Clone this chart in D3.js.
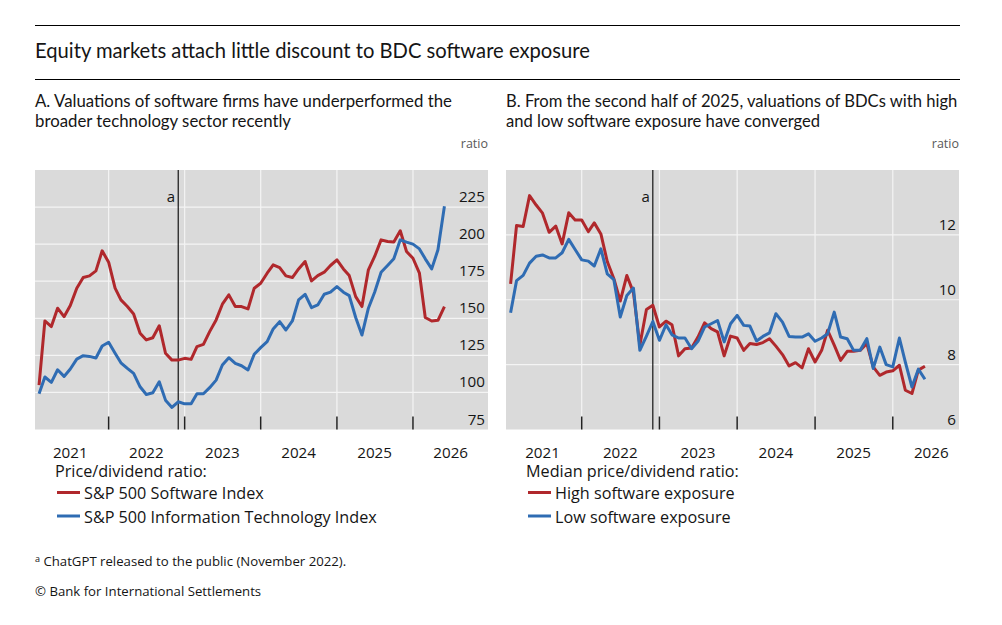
<!DOCTYPE html>
<html>
<head>
<meta charset="utf-8">
<script src="https://cdn.jsdelivr.net/npm/d3@7"></script>
<style>
  body { margin: 0; background: #fff; }
  text { fill: #151515; }
  .title { font-family: Lato, sans-serif; }
  .tick-label, .legend { font-family: "Open Sans", sans-serif; }
</style>
</head>
<body>
<svg id="chart" width="1002" height="625"></svg>
<script>
// month-end observations, Jan 2021 .. May 2026
const months = d3.timeMonth.range(new Date(2021, 1, 1), new Date(2026, 6, 1));

const softwareIndex = [105, 148.2, 144.4, 156.8, 151.1, 158.6, 170.3, 177.5, 178.6, 182, 195.5, 187.8,
  170.3, 162.4, 157.9, 152.9, 139.9, 135.4, 136.9, 145, 126.4, 121.8, 121.8, 123,
  122.3, 130.9, 132.4, 141, 148.9, 159.5, 165.8, 157.9, 157.9, 156.3, 170.3, 173.6,
  180.4, 186, 184.2, 178.6, 177.5, 183.3, 188.3, 175.2, 178.8, 181.1, 185.6, 189.4,
  183.3, 178.8, 164.6, 157.9, 182.7, 191.7, 202.9, 201.8, 201.4, 209, 195, 190.5,
  180.4, 150.5, 148.2, 148.6, 157.9];

const itIndex = [99.1, 110.4, 106.8, 115.3, 110.8, 115.8, 122.5, 124.8, 124.3, 123.2, 131.3, 133.8,
  126.4, 120, 116.2, 112.8, 103.8, 98.6, 99.8, 107.2, 94.8, 89.9, 93.7, 92.3,
  92.3, 99.1, 99.1, 103.2, 108.3, 118.5, 123.4, 119.6, 118, 115.1, 125.7, 130.2,
  134.2, 142.8, 147.7, 142.1, 148.2, 162.4, 166.2, 157.2, 159, 166.2, 167.6, 171.4,
  167.6, 165.3, 150.5, 138.7, 156.8, 167.6, 181.1, 185.6, 190.1, 202.9, 201.4, 200,
  196.8, 190.1, 183.3, 196.2, 225.5];

const highExposure = [10.49, 12.29, 12.26, 13.21, 12.92, 12.67, 12.08, 12.27, 11.72, 12.68, 12.46, 12.46,
  12.1, 12.37, 12.03, 11.18, 10.65, 9.96, 10.75, 10.22, 8.6, 9.7, 9.83, 9.16,
  9.34, 9.23, 8.27, 8.49, 8.51, 8.85, 9.29, 9.11, 9.01, 8.27, 8.88, 8.82,
  8.44, 8.65, 8.62, 8.68, 8.8, 8.57, 8.31, 7.96, 8.06, 7.9, 8.49, 8.08,
  8.44, 9.06, 8.6, 8.13, 8.41, 8.41, 8.44, 8.65, 7.93, 7.67, 7.77, 7.81,
  7.98, 7.21, 7.11, 7.83, 7.95];

const lowExposure = [9.6, 10.59, 10.75, 11.13, 11.34, 11.38, 11.29, 11.29, 11.45, 11.86, 11.55, 11.23,
  11.19, 11.04, 11.57, 10.8, 10.62, 9.47, 10.13, 10.36, 8.44, 8.88, 9.33, 8.75,
  9.23, 8.92, 8.82, 8.82, 8.49, 8.72, 9.16, 9.26, 9.36, 8.7, 9.26, 9.52,
  9.21, 9.19, 8.73, 8.87, 8.98, 9.57, 9.31, 8.87, 8.85, 8.85, 8.95, 8.72,
  8.82, 8.95, 9.62, 8.85, 8.8, 8.44, 8.44, 8.8, 7.88, 8.54, 8, 7.93,
  8.82, 8.08, 7.31, 7.86, 7.55];

const years = [2021, 2022, 2023, 2024, 2025, 2026];
const leftTicks = [75, 100, 125, 150, 175, 200, 225];
const rightTicks = [6, 8, 10, 12];
const chatGptDate = new Date(2022, 11, 1);

const RED = "#b0282c", BLUE = "#2f6cb3";

const svg = d3.select("#chart");

// header
svg.append("line").attr("x1", 35).attr("x2", 960).attr("y1", 25.5).attr("y2", 25.5).attr("stroke", "#000");
svg.append("line").attr("x1", 35).attr("x2", 960).attr("y1", 79.5).attr("y2", 79.5).attr("stroke", "#000");
svg.append("text").attr("class", "title").attr("x", 35).attr("y", 58)
  .style("font-size", "20.2px").text("Equity markets attach little discount to BDC software exposure");

const panels = [
  {
    left: 35, right: 488, xr: [32.6, 489],
    title: ["A. Valuations of software firms have underperformed the", "broader technology sector recently"],
    titleSize: 16.8,
    yDomain: [75, 250], ticks: leftTicks,
    series: [{ values: softwareIndex, color: RED }, { values: itIndex, color: BLUE }],
    legendTitle: "Price/dividend ratio:",
    legend: ["S&P 500 Software Index", "S&P 500 Information Technology Index"]
  },
  {
    left: 506, right: 959, xr: [504, 970.5],
    title: ["B. From the second half of 2025, valuations of BDCs with high", "and low software exposure have converged"],
    titleSize: 16.6,
    yDomain: [6, 14], ticks: rightTicks,
    series: [{ values: highExposure, color: RED }, { values: lowExposure, color: BLUE }],
    legendTitle: "Median price/dividend ratio:",
    legend: ["High software exposure", "Low software exposure"]
  }
];

const plotTop = 170, plotBottom = 429.5;

panels.forEach(p => {
  const g = svg.append("g");
  const x = d3.scaleTime().domain([new Date(2021, 0, 1), new Date(2027, 0, 1)]).range(p.xr);
  const y = d3.scaleLinear().domain(p.yDomain).range([plotBottom, plotTop]);

  p.title.forEach((t, i) => {
    g.append("text").attr("class", "title").attr("x", p.left).attr("y", 107 + i * 20)
      .style("font-size", p.titleSize + "px").text(t);
  });
  g.append("text").attr("class", "legend").attr("x", p.right).attr("y", 148)
    .attr("text-anchor", "end").style("font-size", "12.5px").style("fill", "#595959").text("ratio");

  g.append("rect").attr("x", p.left).attr("y", plotTop).attr("width", p.right - p.left)
    .attr("height", plotBottom - plotTop).attr("fill", "#dadada");

  // gridlines
  g.selectAll(".hgrid").data(p.ticks.slice(1)).join("line").attr("class", "hgrid")
    .attr("x1", p.left).attr("x2", p.right).attr("y1", d => y(d)).attr("y2", d => y(d))
    .attr("stroke", "#f4f4f4").attr("stroke-width", 1.2);
  const yearStarts = years.slice(1).map(yr => new Date(yr, 0, 1));
  g.selectAll(".vgrid").data(yearStarts).join("line").attr("class", "vgrid")
    .attr("x1", d => x(d)).attr("x2", d => x(d)).attr("y1", plotTop).attr("y2", plotBottom)
    .attr("stroke", "#f4f4f4").attr("stroke-width", 1.2);

  // year ticks and labels
  g.selectAll(".xtick").data(yearStarts).join("line").attr("class", "xtick")
    .attr("x1", d => x(d)).attr("x2", d => x(d)).attr("y1", plotBottom - 13).attr("y2", plotBottom)
    .attr("stroke", "#222").attr("stroke-width", 1.5);
  g.selectAll(".xlab").data(years).join("text").attr("class", "tick-label xlab")
    .attr("x", d => x(new Date(d, 6, 1))).attr("y", 458).attr("text-anchor", "middle")
    .style("font-size", "15.2px").text(d => d);

  // y labels inside the plot, right side, sitting above gridlines
  g.selectAll(".ylab").data(p.ticks).join("text").attr("class", "tick-label ylab")
    .attr("x", p.right - 3).attr("y", d => y(d) - 5).attr("text-anchor", "end")
    .style("font-size", "15.2px").text(d => d);

  // ChatGPT marker
  g.append("line").attr("x1", x(chatGptDate)).attr("x2", x(chatGptDate))
    .attr("y1", plotTop).attr("y2", plotBottom).attr("stroke", "#000").attr("stroke-width", 1.1);
  g.append("text").attr("class", "tick-label").attr("x", x(chatGptDate) - 3).attr("y", 202)
    .attr("text-anchor", "end").style("font-size", "15px").text("a");

  const line = d3.line().x((d, i) => x(months[i])).y(d => y(d));
  p.series.forEach(s => {
    g.append("path").attr("d", line(s.values)).attr("fill", "none")
      .attr("stroke", s.color).attr("stroke-width", 3).attr("stroke-linejoin", "round");
  });

  // legend
  const lx = p.left + 20;
  g.append("text").attr("class", "legend").attr("x", lx).attr("y", 477)
    .style("font-size", "16.2px").text(p.legendTitle);
  p.legend.forEach((name, i) => {
    const ly = 492.5 + i * 23.5;
    g.append("line").attr("x1", lx + 2).attr("x2", lx + 25).attr("y1", ly).attr("y2", ly)
      .attr("stroke", p.series[i].color).attr("stroke-width", 3);
    g.append("text").attr("class", "legend").attr("x", lx + 29).attr("y", ly + 6.5)
      .style("font-size", "16.2px").text(name);
  });
});

// footnotes
const foot = svg.append("text").attr("class", "legend").attr("x", 35).attr("y", 566).style("font-size", "13.2px");
foot.append("tspan").attr("dy", -4).style("font-size", "9px").text("a");
foot.append("tspan").attr("dy", 4).text(" ChatGPT released to the public (November 2022).");
svg.append("text").attr("class", "legend").attr("x", 35).attr("y", 596)
  .style("font-size", "13.2px").text("© Bank for International Settlements");
</script>
</body>
</html>
